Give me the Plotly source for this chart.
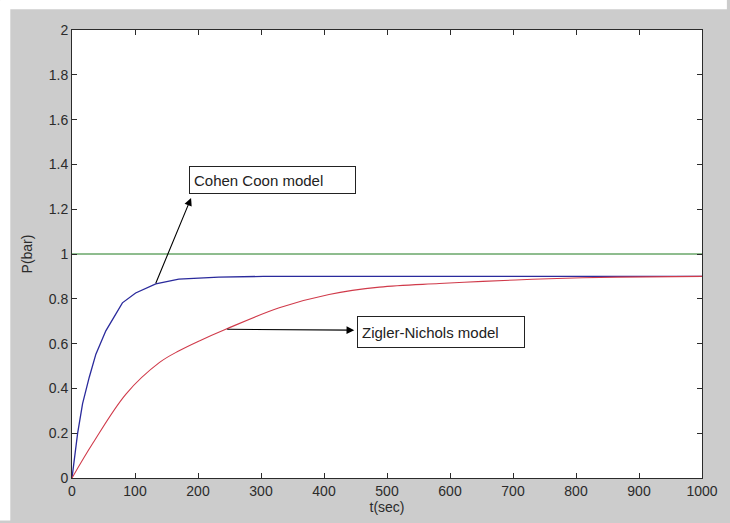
import plotly.graph_objects as go

# Step responses of the pressure loop, P(bar) vs t(sec)
t_cohen = [0, 8.9, 16.8, 27.4, 37.9, 53.7, 80, 101, 133, 169.5, 233, 304, 1000]
p_cohen = [0, 0.199, 0.332, 0.45, 0.553, 0.657, 0.782, 0.826, 0.867, 0.888, 0.897, 0.9, 0.9]

t_zn = [0, 33, 86, 139, 170, 202, 244, 329, 408, 488, 583, 652, 731, 810, 911, 1000]
p_zn = [0, 0.155, 0.376, 0.516, 0.568, 0.612, 0.664, 0.76, 0.819, 0.852, 0.868, 0.878, 0.887, 0.894, 0.898, 0.9]

t_set = [0, 1000]
p_set = [1, 1]

x_ticks = [0, 100, 200, 300, 400, 500, 600, 700, 800, 900, 1000]
y_ticks = [0, 0.2, 0.4, 0.6, 0.8, 1, 1.2, 1.4, 1.6, 1.8, 2]
y_tick_text = ["0", "0.2", "0.4", "0.6", "0.8", "1", "1.2", "1.4", "1.6", "1.8", "2"]

FONT = "Liberation Sans, Arial, sans-serif"

fig = go.Figure()
fig.add_trace(go.Scatter(x=t_set, y=p_set, mode="lines",
                         line=dict(color="#1f7a1f", width=1)))
fig.add_trace(go.Scatter(x=t_cohen, y=p_cohen, mode="lines",
                         line=dict(color="#2a2a9c", width=1.3)))
fig.add_trace(go.Scatter(x=t_zn, y=p_zn, mode="lines", line_shape="spline",
                         line=dict(color="#d03a4a", width=1.1)))

axis_common = dict(
    showgrid=False, zeroline=False, showline=True, linecolor="#2b2b2b", linewidth=1,
    mirror="ticks", ticks="inside", ticklen=5, tickcolor="#2b2b2b",
    tickfont=dict(family=FONT, size=14, color="#2b2b2b"),
)

fig.update_xaxes(range=[0, 1000], tickvals=x_ticks,
                 title=dict(text="t(sec)", font=dict(family=FONT, size=14, color="#2b2b2b"),
                            standoff=2),
                 **axis_common)
fig.update_yaxes(range=[0, 2], tickvals=y_ticks, ticktext=y_tick_text,
                 title=dict(text="P(bar)", font=dict(family=FONT, size=14, color="#2b2b2b"),
                            standoff=12),
                 **axis_common)

# Labels with pointer arrows
fig.add_annotation(x=189, y=1.25, ax=132, ay=0.863, xref="x", yref="y",
                   axref="x", ayref="y", text="", showarrow=True,
                   arrowhead=2, arrowsize=1.4, arrowwidth=1.1, arrowcolor="black",
                   standoff=0, startstandoff=0)
fig.add_annotation(x=185, y=1.266, xref="x", yref="y", xanchor="left", yanchor="bottom",
                   text="Cohen Coon model", showarrow=False, align="left",
                   width=157, height=18, borderpad=4, bordercolor="#222", borderwidth=1,
                   bgcolor="white", font=dict(family=FONT, size=15, color="#222"))

fig.add_annotation(x=448, y=0.66, ax=244, ay=0.664, xref="x", yref="y",
                   axref="x", ayref="y", text="", showarrow=True,
                   arrowhead=2, arrowsize=1.4, arrowwidth=1.1, arrowcolor="black",
                   standoff=0, startstandoff=0)
fig.add_annotation(x=453, y=0.65, xref="x", yref="y", xanchor="left", yanchor="middle",
                   text="Zigler-Nichols model", showarrow=False, align="left",
                   width=158, height=22, borderpad=4, bordercolor="#222", borderwidth=1,
                   bgcolor="white", font=dict(family=FONT, size=15, color="#222"))

# White frame strips along the top and left edge of the figure
W, H = 730, 523
L, R, T, B = 72, 25, 30, 41
pw, ph = W - L - R, H - T - B
def px_x(p):
    return (p - L) / pw
def px_y(p):
    return 1 - (p - T) / ph
fig.add_shape(type="rect", xref="paper", yref="paper", x0=px_x(0), x1=px_x(W),
              y0=px_y(9), y1=px_y(-2), fillcolor="white", line_width=0, layer="below")
fig.add_shape(type="rect", xref="paper", yref="paper", x0=px_x(-2), x1=px_x(10),
              y0=px_y(H + 2), y1=px_y(0), fillcolor="white", line_width=0, layer="below")

fig.update_layout(
    width=W, height=H, margin=dict(l=L, r=R, t=T, b=B),
    paper_bgcolor="#cccccc", plot_bgcolor="white", showlegend=False,
)

fig.write_html("out.html")
